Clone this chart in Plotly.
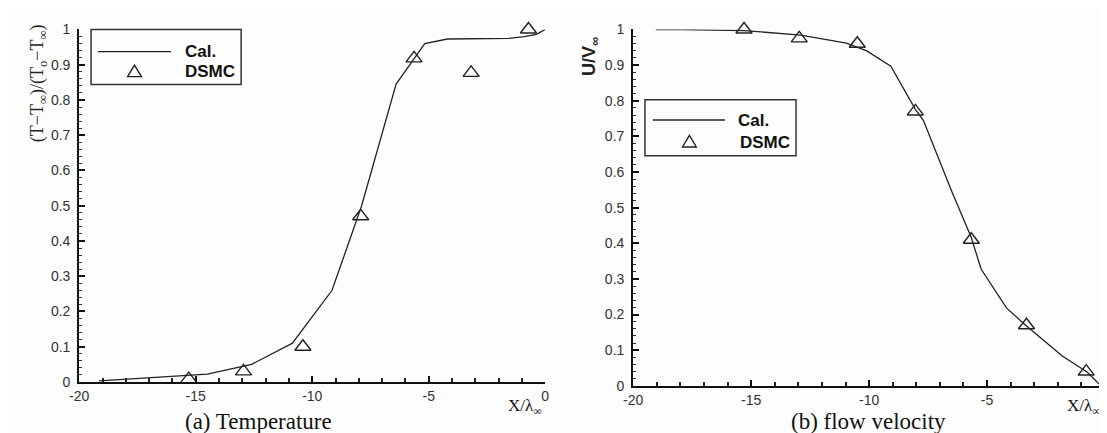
import plotly.graph_objects as go

# ---------------- data ----------------
temp_cal_x = [-19.15, -17.97, -14.5, -12.6, -10.85, -9.15, -7.88, -6.4, -5.17, -4.2, -1.57, -0.9, -0.38, 0.0]
temp_cal_y = [0.003, 0.008, 0.022, 0.05, 0.11, 0.26, 0.50, 0.845, 0.96, 0.973, 0.975, 0.98, 0.986, 1.0]
temp_dsmc_x = [-15.3, -12.95, -10.4, -7.92, -5.63, -3.18, -0.72]
temp_dsmc_y = [0.008, 0.03, 0.10, 0.47, 0.918, 0.877, 1.0]

vel_cal_x = [-19.04, -17.9, -15.3, -12.9, -10.96, -10.1, -9.08, -8.04, -7.7, -6.5, -5.67, -5.25, -4.17, -3.33, -1.8, -0.75, -0.25]
vel_cal_y = [1.0, 1.0, 0.997, 0.984, 0.962, 0.94, 0.897, 0.776, 0.745, 0.546, 0.416, 0.327, 0.218, 0.168, 0.083, 0.038, 0.005]
vel_dsmc_x = [-15.3, -12.96, -10.5, -8.04, -5.67, -3.33, -0.8]
vel_dsmc_y = [1.0, 0.975, 0.96, 0.77, 0.41, 0.17, 0.04]

x_ticks = [-20, -15, -10, -5, 0]
x_tick_text = ["-20", "-15", "-10", "-5", "0"]

legend_names = ["Cal.", "DSMC"]
captions = ["(a) Temperature", "(b) flow velocity"]

W, H = 1107, 433
INK = "#222222"


def px(x):
    return x / W


def py(y):
    return (H - y) / H


fig = go.Figure()

line_style = dict(color=INK, width=1.3)
marker_style = dict(symbol="triangle-up-open", size=14, color=INK, line=dict(width=1.4, color=INK))

fig.add_trace(go.Scatter(x=temp_cal_x, y=temp_cal_y, mode="lines", line=line_style,
                         name=legend_names[0], xaxis="x", yaxis="y", cliponaxis=False, showlegend=False))
fig.add_trace(go.Scatter(x=temp_dsmc_x, y=temp_dsmc_y, mode="markers", marker=marker_style,
                         name=legend_names[1], xaxis="x", yaxis="y", cliponaxis=False, showlegend=False))
fig.add_trace(go.Scatter(x=vel_cal_x, y=vel_cal_y, mode="lines", line=line_style,
                         name=legend_names[0], xaxis="x2", yaxis="y2", cliponaxis=False, showlegend=False))
fig.add_trace(go.Scatter(x=vel_dsmc_x, y=vel_dsmc_y, mode="markers", marker=marker_style,
                         name=legend_names[1], xaxis="x2", yaxis="y2", cliponaxis=False, showlegend=False))

tick_font = dict(family="Liberation Sans, Arial, sans-serif", size=14, color="#333333")

xcommon = dict(range=[-20, 0], tickmode="array", tickvals=x_ticks, ticktext=x_tick_text, ticks="inside", ticklen=6,
               tickwidth=2, tickcolor="#111", showline=True, linecolor="#111", linewidth=2,
               showgrid=False, zeroline=False, tickfont=tick_font, ticklabeloverflow="allow",
               minor=dict(tickmode="linear", tick0=0, dtick=1, ticks="inside", ticklen=4, tickcolor="#222", tickwidth=1.5))
ycommon = dict(range=[0, 1], tickmode="linear", tick0=0, dtick=0.1, ticks="inside", ticklen=6,
               tickwidth=2, tickcolor="#111", showline=True, linecolor="#111", linewidth=2,
               showgrid=False, zeroline=False, tickfont=tick_font, ticklabelstandoff=4,
               minor=dict(dtick=0.02, ticks="inside", ticklen=3, tickcolor="#333", tickwidth=1))

fig.update_layout(
    width=W, height=H,
    margin=dict(l=0, r=0, t=0, b=0),
    paper_bgcolor="#fdfdfd", plot_bgcolor="#fdfdfd",
    showlegend=False,
    xaxis=dict(domain=[px(62), px(534)], anchor="y", **xcommon),
    yaxis=dict(domain=[py(380), py(14)], anchor="x", **ycommon),
    xaxis2=dict(domain=[px(623), px(1101)], anchor="y2", **xcommon),
    yaxis2=dict(domain=[py(384), py(14)], anchor="x2", **ycommon),
)

serif = "Liberation Serif, Times New Roman, serif"
bold_sans = "Liberation Sans, Arial, sans-serif"

annotations = [
    dict(text=captions[0], x=px(244), y=py(421), font=dict(family=serif, size=23, color="#111")),
    dict(text=captions[1], x=px(861), y=py(421), font=dict(family=serif, size=23, color="#111")),
    dict(text="X/λ<sub>∞</sub>", x=px(514), y=py(406), font=dict(family=serif, size=17, color="#111")),
    dict(text="X/λ<sub>∞</sub>", x=px(1080), y=py(406), font=dict(family=serif, size=17, color="#111")),
    dict(text="(T−T<sub>∞</sub>)/(T<sub>o</sub>−T<sub>∞</sub>)", x=px(21), y=py(70), textangle=-90,
         font=dict(family=serif, size=18, color="#222")),
    dict(text="<b>U/V<sub>∞</sub></b>", x=px(580), y=py(42), textangle=-90,
         font=dict(family=bold_sans, size=18, color="#222")),
    # legend texts
    dict(text="<b>Cal.</b>", x=px(167), y=py(37), xanchor="left", font=dict(family=bold_sans, size=17, color="#111")),
    dict(text="<b>DSMC</b>", x=px(167), y=py(58), xanchor="left", font=dict(family=bold_sans, size=17, color="#111")),
    dict(text="<b>Cal.</b>", x=px(727), y=py(108), xanchor="left", font=dict(family=bold_sans, size=17, color="#111")),
    dict(text="<b>DSMC</b>", x=px(729), y=py(131), xanchor="left", font=dict(family=bold_sans, size=17, color="#111")),
]
for a in annotations:
    a.setdefault("xanchor", "center")
    a.update(xref="paper", yref="paper", yanchor="middle", showarrow=False)
fig.update_layout(annotations=annotations)


def tri_path(cx, cy, w=14, h=12):
    return (f"M{px(cx - w / 2)},{py(cy + h / 2)} L{px(cx + w / 2)},{py(cy + h / 2)} "
            f"L{px(cx)},{py(cy - h / 2)} Z")


shapes = [
    dict(type="rect", x0=px(74), x1=px(226), y0=py(71), y1=py(14), line=dict(color="#333", width=1.5)),
    dict(type="line", x0=px(81), x1=px(155), y0=py(37), y1=py(37), line=dict(color=INK, width=1.3)),
    dict(type="path", path=tri_path(118, 57), line=dict(color=INK, width=1.4)),
    dict(type="rect", x0=px(635), x1=px(788), y0=py(145), y1=py(87), line=dict(color="#333", width=1.5)),
    dict(type="line", x0=px(643), x1=px(716), y0=py(108), y1=py(108), line=dict(color=INK, width=1.3)),
    dict(type="path", path=tri_path(680, 130), line=dict(color=INK, width=1.4)),
]
for s in shapes:
    s.update(xref="paper", yref="paper")
fig.update_layout(shapes=shapes)

fig.write_html("out.html")
